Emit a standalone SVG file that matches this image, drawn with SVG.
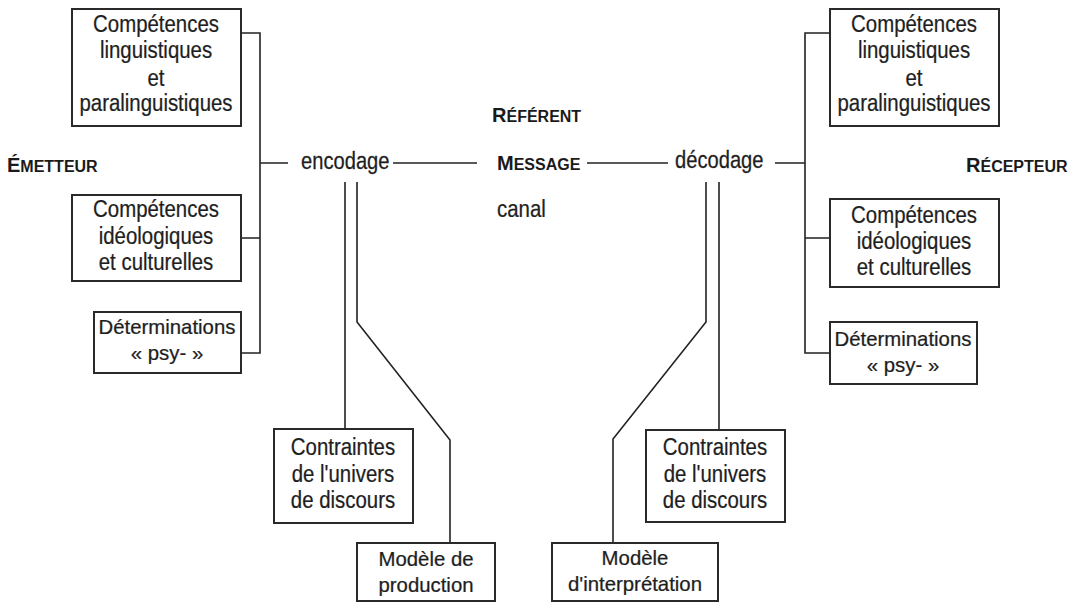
<svg xmlns="http://www.w3.org/2000/svg" width="1070" height="603" viewBox="0 0 1070 603">
<style>
.box{fill:#fff;stroke:#2a2a2a;stroke-width:2}
.ln{fill:none;stroke:#222;stroke-width:1.6}
.t{font-family:"Liberation Sans",Arial,sans-serif;font-size:24px;fill:#1e1e1e;text-anchor:middle;stroke:#1e1e1e;stroke-width:0.25}
.t2{font-size:21px}
.ts{font-family:"Liberation Sans",Arial,sans-serif;font-size:24px;fill:#1e1e1e;stroke:#1e1e1e;stroke-width:0.25}
.lab{font-family:"Liberation Sans",Arial,sans-serif;font-weight:bold;font-size:16px;fill:#1a1a1a}
.big{font-size:20px}
</style>
<rect width="1070" height="603" fill="#fff"/>
<g id="connectors">
<path class="ln" d="M241,33 H260 V353 H241 M241,238 H260 M260,163 H288"/>
<path class="ln" d="M393,163 H477"/>
<path class="ln" d="M345,182 V429 M357,182 V322 L450,440 V543"/>
<path class="ln" d="M587,163 H668"/>
<path class="ln" d="M775,163 H805 M706,182 V322 L613,439 V543 M719,182 V430"/>
<path class="ln" d="M830,33 H805 V353 H830 M805,238 H830"/>
</g>
<g id="emetteur"><text class="lab" x="7" y="172"><tspan class="big">É</tspan>METTEUR</text></g>
<g id="referent"><text class="lab" x="492" y="122"><tspan class="big">R</tspan>ÉFÉRENT</text></g>
<g id="message"><text class="lab" x="497" y="170"><tspan class="big">M</tspan>ESSAGE</text></g>
<g id="recepteur"><text class="lab" x="966" y="172"><tspan class="big">R</tspan>ÉCEPTEUR</text></g>
<g id="canal"><text class="ts" transform="translate(497,0) scale(0.85,1)" x="0" y="217">canal</text></g>
<g id="encodage"><text class="ts" transform="translate(301,0) scale(0.84,1)" x="0" y="169">encodage</text></g>
<g id="decodage"><text class="ts" transform="translate(675,0) scale(0.84,1)" x="0" y="168">décodage</text></g>
<g id="e-ling">
<rect class="box" x="72" y="9" width="169" height="117"/>
<text class="t" transform="translate(156,0) scale(0.85,1)"><tspan x="0" y="32">Compétences</tspan><tspan x="0" y="58">linguistiques</tspan><tspan x="0" y="86">et</tspan><tspan x="0" y="111">paralinguistiques</tspan></text>
</g>
<g id="e-ideo">
<rect class="box" x="72" y="195" width="169" height="86"/>
<text class="t" transform="translate(156,0) scale(0.85,1)"><tspan x="0" y="217">Compétences</tspan><tspan x="0" y="244">idéologiques</tspan><tspan x="0" y="270">et culturelles</tspan></text>
</g>
<g id="e-psy">
<rect class="box" x="94" y="312" width="147" height="61"/>
<text class="t t2" transform="translate(167,0) scale(0.97,1)"><tspan x="0" y="334">Déterminations</tspan><tspan x="0" y="360">« psy- »</tspan></text>
</g>
<g id="r-ling">
<rect class="box" x="830" y="9" width="169" height="117"/>
<text class="t" transform="translate(914,0) scale(0.85,1)"><tspan x="0" y="32">Compétences</tspan><tspan x="0" y="58">linguistiques</tspan><tspan x="0" y="86">et</tspan><tspan x="0" y="111">paralinguistiques</tspan></text>
</g>
<g id="r-ideo">
<rect class="box" x="830" y="199" width="169" height="88"/>
<text class="t" transform="translate(914,0) scale(0.85,1)"><tspan x="0" y="223">Compétences</tspan><tspan x="0" y="249">idéologiques</tspan><tspan x="0" y="275">et culturelles</tspan></text>
</g>
<g id="r-psy">
<rect class="box" x="830" y="322" width="147" height="62"/>
<text class="t t2" transform="translate(903,0) scale(0.97,1)"><tspan x="0" y="346">Déterminations</tspan><tspan x="0" y="372">« psy- »</tspan></text>
</g>
<g id="e-contraintes">
<rect class="box" x="274" y="429" width="139" height="94"/>
<text class="t" transform="translate(343,0) scale(0.85,1)"><tspan x="0" y="455">Contraintes</tspan><tspan x="0" y="482">de l'univers</tspan><tspan x="0" y="508">de discours</tspan></text>
</g>
<g id="modele-production">
<rect class="box" x="357" y="543" width="138" height="58"/>
<text class="t t2" transform="translate(426,0) scale(0.97,1)"><tspan x="0" y="566">Modèle de</tspan><tspan x="0" y="592">production</tspan></text>
</g>
<g id="r-contraintes">
<rect class="box" x="646" y="430" width="139" height="92"/>
<text class="t" transform="translate(715,0) scale(0.85,1)"><tspan x="0" y="455">Contraintes</tspan><tspan x="0" y="482">de l'univers</tspan><tspan x="0" y="508">de discours</tspan></text>
</g>
<g id="modele-interpretation">
<rect class="box" x="552" y="543" width="166" height="58"/>
<text class="t t2" transform="translate(635,0) scale(0.97,1)"><tspan x="0" y="565">Modèle</tspan><tspan x="0" y="591">d'interprétation</tspan></text>
</g>
</svg>
